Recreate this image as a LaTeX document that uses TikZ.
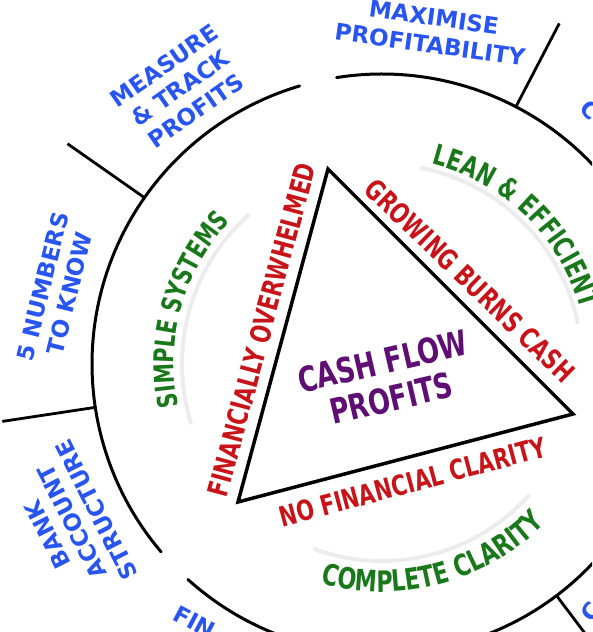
\documentclass[tikz,border=0pt]{standalone}
\usepackage{fontspec}
\setmainfont{DejaVu Sans}
\newfontfamily\narrowfont{DejaVu Sans}[FakeStretch=0.75]
\usetikzlibrary{decorations.text,calc}
\definecolor{cblue}{RGB}{40,85,240}
\definecolor{cred}{RGB}{200,20,25}
\definecolor{cgreen}{RGB}{25,120,25}
\definecolor{cpurple}{RGB}{95,15,115}
\definecolor{carc}{RGB}{236,236,236}
\begin{document}
\begin{tikzpicture}[x=1pt,y=1pt,
  ringline/.style={line width=3pt, line cap=round},
  divline/.style={line width=2.8pt},
  triline/.style={line width=3.5pt, line join=miter},
  grayarc/.style={line width=4pt, draw=carc, line cap=round},
  bluetxt/.style={text=cblue, font=\fontsize{23}{27.5}\selectfont\bfseries, align=center, inner sep=0pt},
  redtxt/.style={text=cred, font=\narrowfont\fontsize{28}{30}\selectfont\bfseries, inner sep=0pt},
  purptxt/.style={text=cpurple, font=\narrowfont\fontsize{34.7}{38}\selectfont\bfseries, align=center, inner sep=0pt},
]
\useasboundingbox (0,0) rectangle (592,632);
\clip (0,0) rectangle (592,632);
\coordinate (C) at (382,268);

% outer ring (with two gaps)
\draw[ringline] ([shift={(C)}]106.5:290) arc[start angle=106.5, end angle=220.4, radius=290];
\draw[ringline] ([shift={(C)}]228:290) arc[start angle=228, end angle=459, radius=290];

% dividers
\foreach \a [count=\i] in {62.5,145,188.6,307} {
  \coordinate (din\i) at ([shift={(C)}]\a:290);
  \coordinate (dout\i) at ([shift={(C)}]\a:384);
  \draw[divline] (din\i) -- (dout\i);
}

% faint gray arcs
\draw[grayarc] ([shift={(C)}]132:200) arc[start angle=132, end angle=197, radius=200];
\draw[grayarc] ([shift={(C)}]12:200) arc[start angle=12, end angle=78.5, radius=200];
\draw[grayarc] ([shift={(C)}]250:197) arc[start angle=250, end angle=318, radius=197];

% triangle
\coordinate (T) at (328,463);
\coordinate (R) at (573,218);
\coordinate (B) at (238,130);
\draw[triline] (T) -- (R) -- (B) -- cycle;

% red labels along the triangle
\node[redtxt, rotate=74.9] (over) at (261.8,302.2) {FINANCIALLY OVERWHELMED};
\node[redtxt, rotate=-44] (grow) at (470,351.5) {GROWING BURNS CASH};
\node[redtxt, rotate=15] (noclar) at (412.5,150) {NO FINANCIAL CLARITY};

% centre
\node[purptxt, rotate=13] (cfp) at (387,252) {CASH FLOW\\PROFITS};

% blue outer labels
\node[bluetxt, rotate=-8] (maxp) at (432,601) {MAXIMISE\\PROFITABILITY};
\node[bluetxt, rotate=35] (meas) at (180,544) {MEASURE\\\& TRACK\\PROFITS};
\node[bluetxt, rotate=76] (five) at (56,342) {5 NUMBERS\\TO KNOW};
\node[bluetxt, rotate=117] (bank) at (72,110) {BANK\\ACCOUNT\\STRUCTURE};
\node[bluetxt, rotate=-28, anchor=west] (fin) at (175,20) {FIN};
\node[bluetxt, rotate=-47] (ctop) at (590,522) {C};
\node[bluetxt, rotate=53] (cbot) at (591,20) {C};

% green curved labels
\path[decorate, decoration={text along path, text align=center,
  text={|\narrowfont\fontsize{27.3}{30}\selectfont\bfseries\color{cgreen}|SIMPLE SYSTEMS}}]
  ([shift={(C)}]200:208) arc[start angle=200, end angle=128.4, radius=208];
\path[decorate, decoration={text along path, text align=center,
  text={|\narrowfont\fontsize{28.5}{30}\selectfont\bfseries\color{cgreen}|LEAN {\&} EFFICIENT}}]
  ([shift={(C)}]95.7:206) arc[start angle=95.7, end angle=-4.3, radius=206];
\path[decorate, decoration={text along path, text align=center,
  text={|\narrowfont\fontsize{29.5}{30}\selectfont\bfseries\color{cgreen}|COMPLETE CLARITY}}]
  ([shift={(C)}]240:228) arc[start angle=240, end angle=330, radius=228];
\end{tikzpicture}
\end{document}
